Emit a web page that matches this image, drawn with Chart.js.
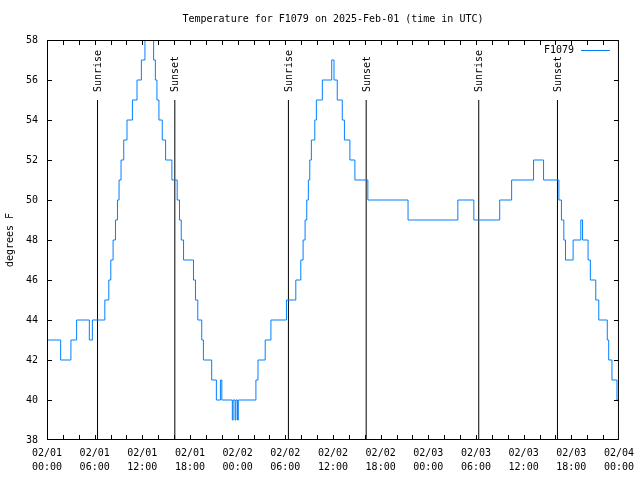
<!DOCTYPE html>
<html>
<head>
<meta charset="utf-8">
<script src="https://cdn.jsdelivr.net/npm/chart.js@4.4.1/dist/chart.umd.min.js"></script>
<style>
  body { margin: 0; background: #fff; }
  canvas { display: block; }
</style>
</head>
<body>
<canvas id="chart" width="640" height="480"></canvas>
<script>
// hours since 02/01 00:00 UTC where the reading changes, and the new reading (F)
const hours = [
  0, 1.72, 3.01, 3.73, 5.33, 5.71, 7.28, 7.78, 8.03, 8.32, 8.62, 8.87, 9.07, 9.32, 9.66,
  10.07, 10.75, 11.33, 11.88, 12.33, 12.54, 13.21, 13.42, 13.64, 13.84, 14.09, 14.51,
  14.93, 15.72, 16.39, 16.68, 16.9, 17.19, 18.44, 18.69, 18.98, 19.48, 19.69, 20.73,
  21.32, 21.83, 22.01, 23.33, 23.43, 23.68, 23.78, 23.98, 24.08, 26.3, 26.56, 27.47,
  28.19, 30.14, 31.32, 31.95, 32.24, 32.49, 32.7, 32.9, 33.08, 33.28, 33.71, 33.91,
  34.66, 35.84, 36.13, 36.54, 37.17, 37.44, 38.13, 38.76, 40.39, 45.45, 51.72, 53.73,
  56.99, 58.49, 61.25, 62.51, 64.44, 64.76, 65.06, 65.27, 66.23, 67.2, 67.42, 68.11,
  68.4, 69.08, 69.46, 70.53, 70.71, 71.12, 71.75, 72
];
const temps = [
  43, 42, 43, 44, 43, 44, 45, 46, 47, 48, 49, 50, 51, 52, 53,
  54, 55, 56, 57, 58, 59, 58, 57, 56, 55, 54, 53,
  52, 51, 50, 49, 48, 47, 46, 45, 44, 43, 42, 41,
  40, 41, 40, 39, 40, 39, 40, 39, 40, 41, 42, 43,
  44, 45, 46, 47, 48, 49, 50, 51, 52, 53, 54, 55,
  56, 57, 56, 55, 54, 53, 52, 51, 50, 49, 50, 49,
  50, 51, 52, 51, 50, 49, 48, 47, 48, 49, 48, 47,
  46, 45, 44, 43, 42, 41, 40, 40
];

const eventHours = [6.36, 16.09, 30.39, 40.18, 54.35, 64.26];
const eventNames = ['Sunrise', 'Sunset', 'Sunrise', 'Sunset', 'Sunrise', 'Sunset'];

const xTickLabels = [
  ['02/01', '00:00'], ['02/01', '06:00'], ['02/01', '12:00'], ['02/01', '18:00'],
  ['02/02', '00:00'], ['02/02', '06:00'], ['02/02', '12:00'], ['02/02', '18:00'],
  ['02/03', '00:00'], ['02/03', '06:00'], ['02/03', '12:00'], ['02/03', '18:00'],
  ['02/04', '00:00']
];

const seriesName = 'F1079';
const chartTitle = 'Temperature for F1079 on 2025-Feb-01 (time in UTC)';
const lineColor = '#0080ff';
const monoFont = "'DejaVu Sans Mono', 'Liberation Mono', monospace";

const datasets = [{
  label: seriesName,
  data: hours.map((h, i) => ({ x: h, y: temps[i] })),
  borderColor: lineColor,
  borderWidth: 1,
  pointRadius: 0,
  stepped: 'before',
  fill: false
}];
eventHours.forEach((h, i) => {
  datasets.push({
    label: eventNames[i],
    data: [{ x: h, y: 38 }, { x: h, y: 55 }],
    borderColor: '#000',
    borderWidth: 1,
    pointRadius: 0,
    fill: false
  });
});

// gnuplot-like frame: border, inward ticks, labels, title and key
const framePlugin = {
  id: 'frame',
  afterDraw(chart) {
    const ctx = chart.ctx;
    const a = chart.chartArea;
    const xs = chart.scales.x;
    const ys = chart.scales.y;
    ctx.save();
    ctx.strokeStyle = '#000';
    ctx.lineWidth = 1;
    ctx.strokeRect(a.left + 0.5, a.top + 0.5, a.right - a.left - 1, a.bottom - a.top - 1);

    ctx.beginPath();
    for (let h = 2; h < 72; h += 2) {
      const px = Math.round(xs.getPixelForValue(h)) + 0.5;
      ctx.moveTo(px, a.bottom);
      ctx.lineTo(px, a.bottom - 5);
      ctx.moveTo(px, a.top);
      ctx.lineTo(px, a.top + 5);
    }
    for (let t = 40; t < 58; t += 2) {
      const py = Math.round(ys.getPixelForValue(t)) + 0.5;
      ctx.moveTo(a.left, py);
      ctx.lineTo(a.left + 5, py);
      ctx.moveTo(a.right, py);
      ctx.lineTo(a.right - 5, py);
    }
    ctx.stroke();

    ctx.fillStyle = '#000';
    ctx.font = '10px ' + monoFont;

    // event labels
    eventHours.forEach((h, i) => {
      const px = xs.getPixelForValue(h);
      const py = ys.getPixelForValue(55) - 8;
      ctx.save();
      ctx.translate(px + 1, py);
      ctx.rotate(-Math.PI / 2);
      ctx.textAlign = 'left';
      ctx.textBaseline = 'middle';
      ctx.fillText(eventNames[i], 0, 0);
      ctx.restore();
    });

    // title
    ctx.textAlign = 'center';
    ctx.textBaseline = 'middle';
    ctx.fillText(chartTitle, (a.left + a.right) / 2, 19);

    // key
    ctx.textAlign = 'right';
    ctx.fillText(seriesName, 574, 50);
    ctx.strokeStyle = lineColor;
    ctx.beginPath();
    ctx.moveTo(581, 50.5);
    ctx.lineTo(610, 50.5);
    ctx.stroke();
    ctx.restore();
  }
};

new Chart(document.getElementById('chart'), {
  type: 'line',
  data: { datasets: datasets },
  options: {
    responsive: false,
    animation: false,
    devicePixelRatio: 1,
    layout: { padding: { top: 40, right: 19, left: 0, bottom: 0 } },
    plugins: {
      legend: { display: false },
      title: { display: false },
      tooltip: { enabled: false }
    },
    scales: {
      x: {
        type: 'linear',
        min: 0,
        max: 72,
        border: { display: false },
        grid: { display: false, drawTicks: false },
        afterFit: scale => { scale.height = 40; },
        ticks: {
          stepSize: 6,
          autoSkip: false,
          maxRotation: 0,
          padding: 6,
          color: '#000',
          font: { family: monoFont, size: 10, lineHeight: 1.4 },
          callback: v => xTickLabels[v / 6] || ''
        }
      },
      y: {
        min: 38,
        max: 58,
        border: { display: false },
        grid: { display: false, drawTicks: false },
        afterFit: scale => { scale.width = 47; },
        title: {
          display: true,
          text: 'degrees F',
          color: '#000',
          font: { family: monoFont, size: 10 },
          padding: { top: 4, bottom: 0 }
        },
        ticks: {
          stepSize: 2,
          padding: 9,
          color: '#000',
          font: { family: monoFont, size: 10 }
        }
      }
    }
  },
  plugins: [framePlugin]
});
</script>
</body>
</html>
